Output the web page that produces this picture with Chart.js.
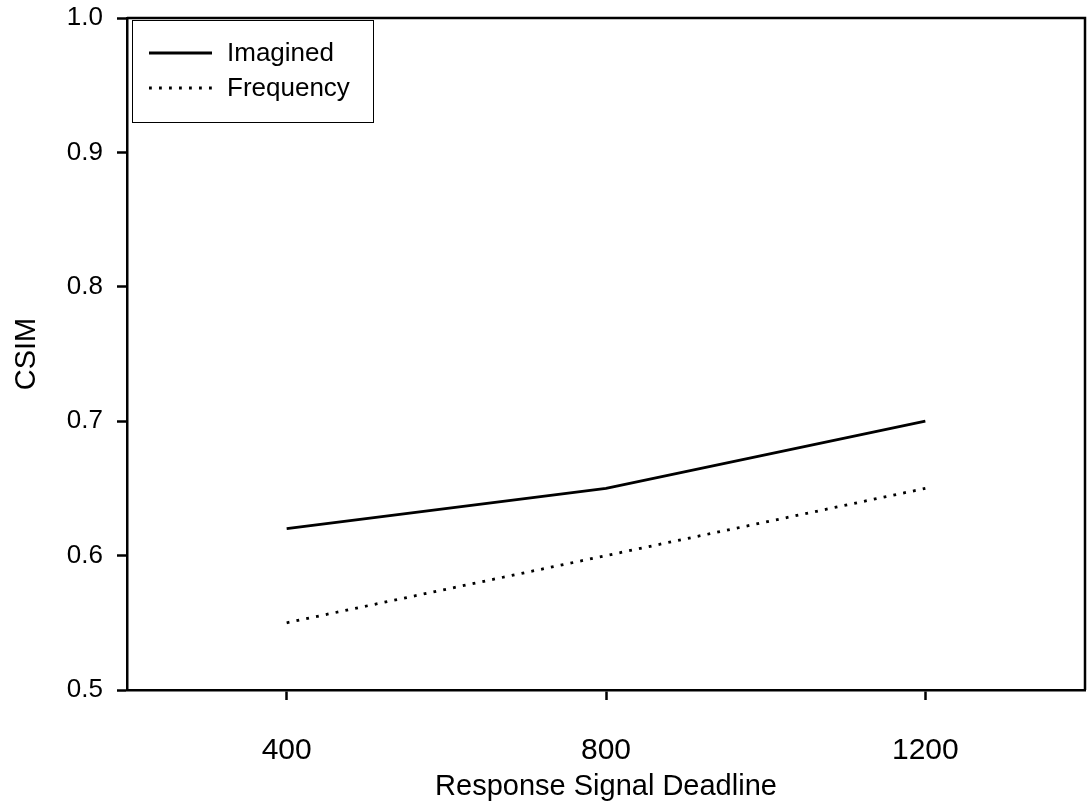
<!DOCTYPE html>
<html>
<head>
<meta charset="utf-8">
<title>CSIM by Response Signal Deadline</title>
<script src="https://cdn.jsdelivr.net/npm/chart.js@4.4.1/dist/chart.umd.min.js"></script>
<style>
    html, body { margin: 0; padding: 0; background: #fff; }
    #wrap { width: 1089px; height: 808px; position: relative; }
</style>
</head>
<body>
<div id="wrap"><canvas id="chart"></canvas></div>
<script>
// Data
const deadlines = [400, 800, 1200];
const imagined = [0.62, 0.65, 0.70];
const frequency = [0.55, 0.60, 0.65];
const xTicks = [400, 800, 1200];
const seriesNames = ['Imagined', 'Frequency'];

const FONT = "'Liberation Sans', Arial, sans-serif";

// Closed frame around the plot (top and right sides)
const framePlugin = {
    id: 'frame',
    afterDraw(chart) {
        const { ctx, chartArea: a } = chart;
        ctx.save();
        ctx.strokeStyle = '#000';
        ctx.lineWidth = 2.5;
        ctx.beginPath();
        ctx.moveTo(a.left, a.top);
        ctx.lineTo(a.right, a.top);
        ctx.lineTo(a.right, a.bottom);
        ctx.stroke();
        ctx.restore();
    }
};

// Boxed legend inside the top-left of the plot
const boxLegendPlugin = {
    id: 'boxLegend',
    afterDraw(chart) {
        const { ctx, chartArea: a } = chart;
        const x0 = a.left + 5, y0 = a.top + 2;
        ctx.save();
        ctx.strokeStyle = '#000';
        ctx.lineWidth = 1;
        ctx.strokeRect(x0 + 0.5, y0 + 0.5, 241, 102);
        ctx.font = '26px ' + FONT;
        ctx.fillStyle = '#000';
        ctx.textBaseline = 'middle';
        chart.data.datasets.forEach((ds, i) => {
            const y = y0 + 33 + i * 35;
            ctx.beginPath();
            ctx.lineWidth = ds.borderWidth;
            ctx.setLineDash(ds.borderDash || []);
            ctx.moveTo(x0 + 17, y);
            ctx.lineTo(x0 + 80, y);
            ctx.stroke();
            ctx.setLineDash([]);
            ctx.fillText(ds.label, x0 + 95, y + 1);
        });
        ctx.restore();
    }
};

new Chart(document.getElementById('chart'), {
    type: 'line',
    data: {
        datasets: [{
            label: seriesNames[0],
            data: deadlines.map((d, i) => ({ x: d, y: imagined[i] })),
            borderColor: '#000',
            borderWidth: 2.8,
            pointRadius: 0
        }, {
            label: seriesNames[1],
            data: deadlines.map((d, i) => ({ x: d, y: frequency[i] })),
            borderColor: '#000',
            borderWidth: 2.8,
            borderDash: [2.8, 7.2],
            pointRadius: 0
        }]
    },
    options: {
        responsive: true,
        maintainAspectRatio: false,
        animation: false,
        layout: { padding: { top: 18, right: 4, left: 0, bottom: 0 } },
        plugins: {
            legend: { display: false },
            tooltip: { enabled: false }
        },
        scales: {
            x: {
                type: 'linear',
                min: 200,
                max: 1400,
                afterBuildTicks(scale) {
                    scale.ticks = xTicks.map(v => ({ value: v }));
                },
                afterFit(scale) {
                    scale.height = 118;
                    scale.paddingLeft = 0;
                    scale.paddingRight = 0;
                },
                grid: {
                    drawOnChartArea: false,
                    tickLength: 10,
                    tickWidth: 2.5,
                    tickColor: '#000'
                },
                border: { color: '#000', width: 2.5 },
                ticks: {
                    color: '#000',
                    padding: 33,
                    maxRotation: 0,
                    font: { family: FONT, size: 30 },
                    callback: v => String(v)
                },
                title: {
                    display: true,
                    text: 'Response Signal Deadline',
                    color: '#000',
                    font: { family: FONT, size: 29 },
                    padding: { top: 0, bottom: 4 }
                }
            },
            y: {
                min: 0.5,
                max: 1.0,
                afterFit(scale) {
                    scale.width = 127;
                    scale.paddingTop = 0;
                    scale.paddingBottom = 0;
                },
                grid: {
                    drawOnChartArea: false,
                    tickLength: 10,
                    tickWidth: 2.5,
                    tickColor: '#000'
                },
                border: { color: '#000', width: 2.5 },
                ticks: {
                    stepSize: 0.1,
                    color: '#000',
                    padding: 14,
                    font: { family: FONT, size: 26 },
                    callback: v => v.toFixed(1)
                },
                title: {
                    display: true,
                    text: 'CSIM',
                    color: '#000',
                    font: { family: FONT, size: 29 },
                    padding: { top: 10, bottom: 0 }
                }
            }
        }
    },
    plugins: [framePlugin, boxLegendPlugin]
});
</script>
</body>
</html>
